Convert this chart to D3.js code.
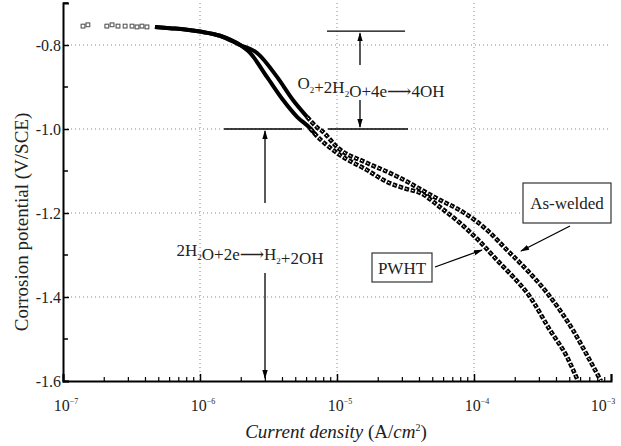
<!DOCTYPE html>
<html>
<head>
<meta charset="utf-8">
<script src="https://cdn.jsdelivr.net/npm/d3@7"></script>
<style>
  body { margin: 0; background: #fff; }
  svg { display: block; font-family: "Liberation Serif", "DejaVu Serif", serif; }
</style>
</head>
<body>
<svg id="chart"></svg>
<script>
const width = 621;
const height = 446;

// current density (A/cm2) and potential (V/SCE)
const pwhtCurrent = [1.40e-7, 1.52e-7, 2.09e-7, 2.28e-7, 2.52e-7, 2.84e-7, 3.19e-7, 3.47e-7, 3.77e-7, 4.10e-7,
  4.69e-7, 6.04e-7, 7.78e-7, 1.0e-6, 1.40e-6, 1.96e-6, 2.32e-6, 3.08e-6, 4.04e-6, 5.11e-6, 6.35e-6, 6.91e-6,
  1.0e-5, 1.66e-5, 2.32e-5, 3.24e-5, 4.04e-5, 5.65e-5, 7.91e-5, 1.11e-4, 1.47e-4, 1.93e-4, 2.48e-4,
  3.59e-4, 4.78e-4, 5.74e-4];
const pwhtPotential = [-0.755, -0.752, -0.755, -0.752, -0.755, -0.755, -0.755, -0.757, -0.755, -0.757,
  -0.757, -0.760, -0.763, -0.768, -0.778, -0.800, -0.819, -0.876, -0.931, -0.971, -0.998, -1.012,
  -1.057, -1.098, -1.126, -1.143, -1.152, -1.186, -1.224, -1.269, -1.312, -1.352, -1.393,
  -1.479, -1.543, -1.600];

const weldCurrent = [1.40e-7, 1.52e-7, 2.09e-7, 2.28e-7, 2.52e-7, 2.84e-7, 3.19e-7, 3.47e-7, 3.77e-7, 4.10e-7,
  4.69e-7, 6.04e-7, 7.78e-7, 1.0e-6, 1.40e-6, 1.96e-6, 2.61e-6, 3.65e-6, 4.77e-6, 6.04e-6, 7.26e-6, 7.78e-6,
  1.0e-5, 1.66e-5, 2.44e-5, 3.41e-5, 4.04e-5, 5.65e-5, 8.32e-5, 1.24e-4, 1.74e-4, 2.44e-4, 3.41e-4,
  5.28e-4, 6.80e-4, 8.45e-4];
const weldPotential = [-0.755, -0.752, -0.755, -0.752, -0.755, -0.755, -0.755, -0.757, -0.755, -0.757,
  -0.757, -0.760, -0.763, -0.768, -0.778, -0.800, -0.819, -0.876, -0.931, -0.971, -0.998, -1.005,
  -1.043, -1.081, -1.105, -1.129, -1.143, -1.169, -1.198, -1.240, -1.288, -1.336, -1.390,
  -1.479, -1.543, -1.600];

const xDecades = [-7, -6, -5, -4, -3];
const yTicks = [-0.8, -1.0, -1.2, -1.4, -1.6];
const yMinor = [-0.7, -0.9, -1.1, -1.3, -1.5];

const svg = d3.select("#chart").attr("width", width).attr("height", height);

const x = d3.scaleLog().domain([1e-7, 1e-3]).range([63, 611]);
const y = d3.scaleLinear().domain([-1.6, -0.7]).range([381, 3]);

// grid
const grid = svg.append("g").attr("stroke", "#888").attr("stroke-width", 1).attr("stroke-dasharray", "1 3");
grid.selectAll(".gy")
  .data(yTicks.filter(v => v > -1.6))
  .enter().append("line")
  .attr("x1", x(1e-7)).attr("x2", x(1e-3))
  .attr("y1", d => y(d)).attr("y2", d => y(d));
grid.selectAll(".gx")
  .data(xDecades.slice(1, -1))
  .enter().append("line")
  .attr("x1", d => x(Math.pow(10, d))).attr("x2", d => x(Math.pow(10, d)))
  .attr("y1", y(-0.7)).attr("y2", y(-1.6));

// axes
const yAxis = d3.axisLeft(y).tickValues(yTicks).tickSize(-6).tickPadding(2);
const gy = svg.append("g").attr("transform", `translate(${x(1e-7)},0)`).call(yAxis);
gy.selectAll(".tick text").text(d => d3.format(".1f")(d).replace("−", "-"));
gy.append("g").selectAll("line")
  .data(yMinor).enter().append("line")
  .attr("x1", 0).attr("x2", 5).attr("y1", d => y(d)).attr("y2", d => y(d))
  .attr("stroke", "#000").attr("stroke-width", 1.5);

const minorX = [];
xDecades.slice(0, -1).forEach(e => { for (let k = 2; k < 10; k++) minorX.push(k * Math.pow(10, e)); });
const xAxis = d3.axisBottom(x).tickValues(xDecades.map(e => Math.pow(10, e))).tickSize(-7).tickFormat("");
const gx = svg.append("g").attr("transform", `translate(0,${y(-1.6)})`).call(xAxis);
gx.append("g").selectAll("line")
  .data(minorX).enter().append("line")
  .attr("x1", d => x(d)).attr("x2", d => x(d)).attr("y1", 0).attr("y2", -4)
  .attr("stroke", "#000").attr("stroke-width", 1.2);

[gx, gy].forEach(g => {
  g.select(".domain").attr("stroke", "#000").attr("stroke-width", 2);
  g.selectAll(".tick line").attr("stroke", "#000").attr("stroke-width", 1.5);
  g.selectAll("text").attr("font-family", "Liberation Serif").attr("font-size", 16).attr("fill", "#222");
});

// x tick labels 10^n
const xl = svg.append("g").selectAll("text")
  .data(xDecades).enter().append("text")
  .attr("x", (d, i) => x(Math.pow(10, d)) + (i === xDecades.length - 1 ? -8 : 3))
  .attr("y", 411)
  .attr("text-anchor", "middle")
  .attr("font-size", 16).attr("fill", "#222");
xl.append("tspan").text("10");
xl.append("tspan").attr("dy", -7).attr("font-size", 8).text(d => "−" + (-d));

// axis titles
svg.append("text")
  .attr("transform", "translate(28,222) rotate(-90)")
  .attr("text-anchor", "middle").attr("font-size", 19).attr("fill", "#222")
  .text("Corrosion potential (V/SCE)");
const xt = svg.append("text")
  .attr("x", 336).attr("y", 438)
  .attr("text-anchor", "middle").attr("font-size", 19).attr("fill", "#222");
xt.append("tspan").attr("font-style", "italic").text("Current density ");
xt.append("tspan").text("(A/");
xt.append("tspan").attr("font-style", "italic").text("cm");
xt.append("tspan").attr("dy", -7).attr("font-size", 10).text("2");
xt.append("tspan").attr("dy", 7).text(")");

// curves
const series = [
  { name: "PWHT", current: pwhtCurrent, potential: pwhtPotential },
  { name: "As-welded", current: weldCurrent, potential: weldPotential }
];
const line = d3.line().x(d => x(d[0])).y(d => y(d[1])).curve(d3.curveMonotoneX);

series.forEach(s => {
  const pts = s.current.map((c, i) => [c, s.potential[i]]);
  const dense = pts.filter(p => p[0] >= 4.5e-7);
  const knee = dense.filter(p => p[0] <= 7.0e-6);
  const tail = dense.filter(p => p[0] >= 6.0e-6);
  svg.append("path")
    .datum(knee)
    .attr("d", line)
    .attr("fill", "none")
    .attr("stroke", "#000")
    .attr("stroke-width", 4);
  svg.append("path")
    .datum(tail)
    .attr("d", line)
    .attr("fill", "none")
    .attr("stroke", "#000")
    .attr("stroke-width", 4.5)
    .attr("stroke-dasharray", "4.5 1.8");
  svg.append("path")
    .datum(tail)
    .attr("d", line)
    .attr("fill", "none")
    .attr("stroke", "#fff")
    .attr("stroke-width", 1)
    .attr("stroke-dasharray", "2 4.3")
    .attr("stroke-dashoffset", -1);
  svg.append("g").selectAll("rect")
    .data(pts.filter(p => p[0] < 4.5e-7))
    .enter().append("rect")
    .attr("x", d => x(d[0]) - 1.8).attr("y", d => y(d[1]) - 1.8)
    .attr("width", 3.6).attr("height", 3.6)
    .attr("fill", "#fff").attr("stroke", "#666").attr("stroke-width", 1);
});

// annotations
const ann = svg.append("g").attr("stroke", "#000").attr("stroke-width", 1.3);
svg.append("defs").append("marker")
  .attr("id", "ah").attr("viewBox", "0 0 10 10").attr("refX", 9).attr("refY", 5)
  .attr("markerWidth", 9).attr("markerHeight", 9).attr("orient", "auto-start-reverse")
  .attr("markerUnits", "userSpaceOnUse")
  .append("path").attr("d", "M0,2 L10,5 L0,8 Z").attr("fill", "#000");

ann.append("line").attr("x1", 327).attr("x2", 405).attr("y1", y(-0.767)).attr("y2", y(-0.767));
ann.append("line").attr("x1", 328).attr("x2", 408).attr("y1", y(-1.0)).attr("y2", y(-1.0));
ann.append("line").attr("x1", 224).attr("x2", 302).attr("y1", y(-1.0)).attr("y2", y(-1.0));
ann.append("line").attr("x1", 360).attr("x2", 360).attr("y1", 65).attr("y2", y(-0.767) + 2).attr("marker-end", "url(#ah)");
ann.append("line").attr("x1", 360).attr("x2", 360).attr("y1", 100).attr("y2", y(-1.0) - 2).attr("marker-end", "url(#ah)");
ann.append("line").attr("x1", 265).attr("x2", 265).attr("y1", 203).attr("y2", y(-1.0) + 2).attr("marker-end", "url(#ah)");
ann.append("line").attr("x1", 265).attr("x2", 265).attr("y1", 273).attr("y2", 378).attr("marker-end", "url(#ah)");

function chem(parts, xPos, yPos) {
  const t = svg.append("text").attr("x", xPos).attr("y", yPos).attr("text-anchor", "middle")
    .attr("font-size", 17).attr("fill", "#222");
  parts.forEach(p => {
    if (p[1]) {
      t.append("tspan").attr("dy", 4).attr("font-size", 9).text(p[0]);
      t.append("tspan").attr("dy", -4).text("");
    } else {
      t.append("tspan").text(p[0]);
    }
  });
}
chem([["O"], ["2", 1], ["+2H"], ["2", 1], ["O+4e⟶4OH"]], 371, 89);
chem([["2H"], ["2", 1], ["O+2e⟶H"], ["2", 1], ["+2OH"]], 250, 256);

// legend boxes
const boxes = [
  { label: "As-welded", x0: 523, y0: 183, w: 88, h: 40, ax: [570, 226], tip: [521, 251] },
  { label: "PWHT", x0: 372, y0: 253, w: 60, h: 29, ax: [435, 267], tip: [482, 250] }
];
boxes.forEach(b => {
  svg.append("rect").attr("x", b.x0).attr("y", b.y0).attr("width", b.w).attr("height", b.h)
    .attr("fill", "#fff").attr("stroke", "#333").attr("stroke-width", 1.2);
  svg.append("text").attr("x", b.x0 + b.w / 2).attr("y", b.y0 + b.h / 2 + 6)
    .attr("text-anchor", "middle").attr("font-size", 17).attr("fill", "#222").text(b.label);
  ann.append("line").attr("x1", b.ax[0]).attr("y1", b.ax[1]).attr("x2", b.tip[0]).attr("y2", b.tip[1])
    .attr("marker-end", "url(#ah)");
});
</script>
</body>
</html>
